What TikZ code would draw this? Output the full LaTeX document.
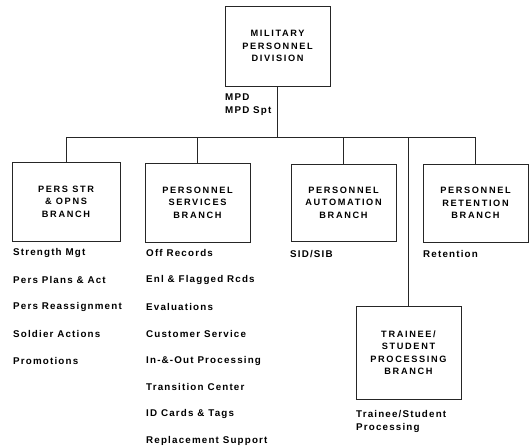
\documentclass[tikz,border=0pt]{standalone}
\usepackage{fontspec}
\newfontfamily\orgfont[LetterSpace=18]{Liberation Sans}
\newfontfamily\dutyfont[LetterSpace=12]{Liberation Sans}
\begin{document}
\begin{tikzpicture}[x=1pt,y=-1pt,
  line/.style={draw=black!85,line width=0.7pt},
  unit/.style={line,rectangle,inner sep=0pt,outer sep=0pt,align=center,
    font={\orgfont\bfseries\fontsize{9.2}{12.5}\selectfont}},
  duty/.style={anchor=west,inner sep=0pt,align=left,
    font={\dutyfont\bfseries\fontsize{9.8}{13.5}\selectfont}}]
\useasboundingbox (0,0) rectangle (529,445);

% division and branches
\node[unit,minimum width=105pt,minimum height=80pt] (mpd) at (277.5,46) {MILITARY\\PERSONNEL\\DIVISION};
\node[unit,minimum width=108pt,minimum height=79pt] (str) at (66,201.5) {PERS STR\\\&\ OPNS\\BRANCH};
\node[unit,minimum width=105pt,minimum height=79pt] (svc) at (197.5,202.5) {PERSONNEL\\SERVICES\\BRANCH};
\node[unit,minimum width=105pt,minimum height=77pt] (aut) at (343.5,202.5) {PERSONNEL\\AUTOMATION\\BRANCH};
\node[unit,minimum width=105pt,minimum height=78pt] (ret) at (475.5,203) {PERSONNEL\\RETENTION\\BRANCH};
\node[unit,minimum width=105pt,minimum height=93pt] (tsp) at (408.5,352.5) {TRAINEE/\\STUDENT\\PROCESSING\\BRANCH};

% connectors
\coordinate (busL) at (66,137);
\coordinate (busR) at (475.5,137);
\draw[line] (busL) -- (busR);
\draw[line] (mpd.south) -- (mpd.south |- busL);
\draw[line] (str.north) -- (str.north |- busL);
\draw[line] (svc.north) -- (svc.north |- busL);
\draw[line] (aut.north) -- (aut.north |- busL);
\draw[line] (ret.north) -- (ret.north |- busL);
\draw[line] (tsp.north) -- (tsp.north |- busL);

% office symbols and functions
\node[duty] (mpdsym) at (225,104.5) {MPD\\MPD Spt};

\node[duty] (s1) at (13,253) {Strength Mgt};
\node[duty] (s2) at (13,280) {Pers Plans \& Act};
\node[duty] (s3) at (13,307) {Pers Reassignment};
\node[duty] (s4) at (13,334) {Soldier Actions};
\node[duty] (s5) at (13,361) {Promotions};

\node[duty] (v1) at (146,253) {Off Records};
\node[duty] (v2) at (146,280) {Enl \& Flagged Rcds};
\node[duty] (v3) at (146,307) {Evaluations};
\node[duty] (v4) at (146,334) {Customer Service};
\node[duty] (v5) at (146,361) {In-\&-Out Processing};
\node[duty] (v6) at (146,387) {Transition Center};
\node[duty] (v7) at (146,414) {ID Cards \& Tags};
\node[duty] (v8) at (146,441) {Replacement Support};

\node[duty] (a1) at (290,254) {SID/SIB};
\node[duty] (r1) at (423,254) {Retention};
\node[duty] (t1) at (356,421.5) {Trainee/Student\\Processing};
\end{tikzpicture}
\end{document}
